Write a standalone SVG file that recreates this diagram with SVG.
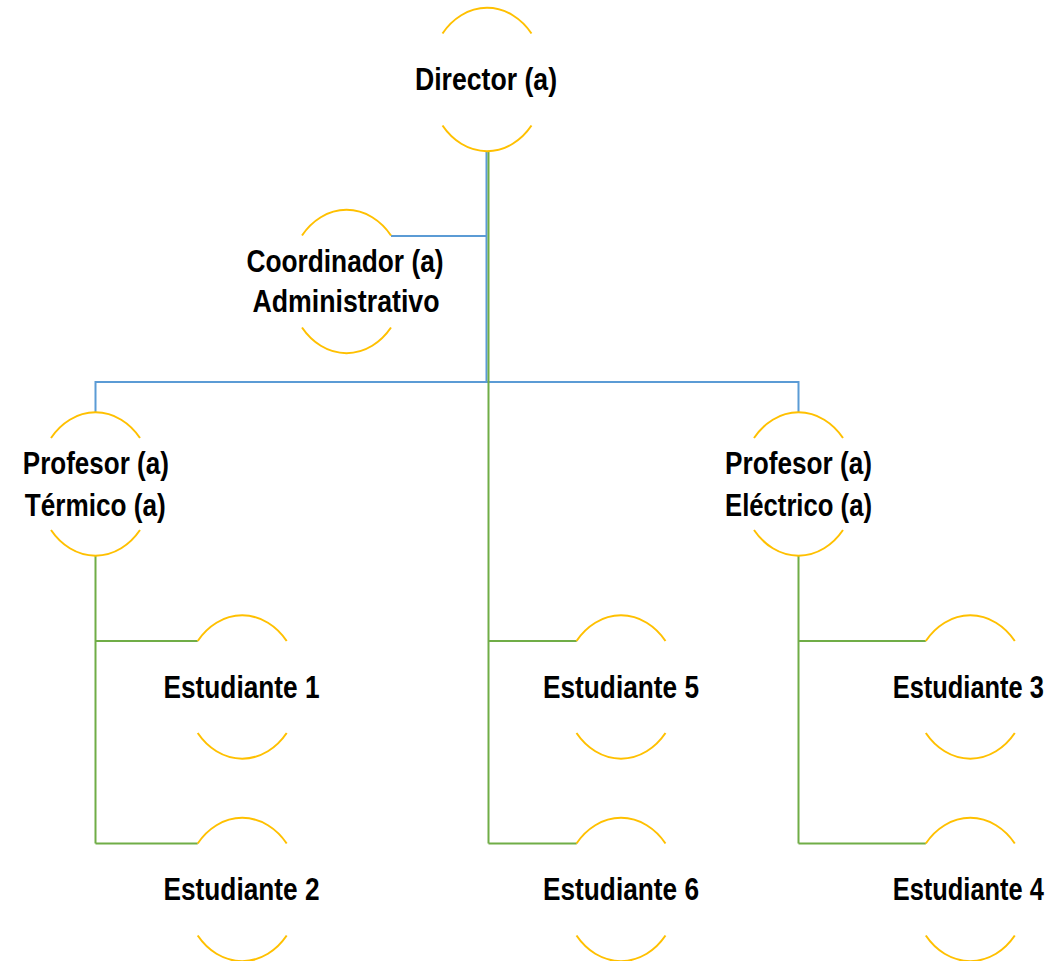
<svg xmlns="http://www.w3.org/2000/svg" xmlns:xlink="http://www.w3.org/1999/xlink" width="1056" height="961" viewBox="0 0 1056 961">
<style>
.arc{fill:none;stroke:#FFC000;stroke-width:2}
.blue{fill:none;stroke:#5B9BD5;stroke-width:2}
.green{fill:none;stroke:#70AD47;stroke-width:2}
text{font-family:"Liberation Sans",Arial,sans-serif;font-weight:bold;font-size:30.5px;fill:#000;text-anchor:middle}
</style>
<defs>
<path id="circ" class="arc" d="M-44.5,-46 A58,71.5 0 0 1 44.5,-46 M-44.5,46 A58,71.5 0 0 0 44.5,46"/>
</defs>
<rect width="1056" height="961" fill="#fff"/>
<g id="connectors">
<path class="blue" d="M486.5,151 V382 M391,236 H486.5 M95.5,413 V382 H798.5 V413"/>
<path class="green" d="M488.5,151 V843.5 M488.5,641 H576.7 M488.5,843.5 H576.7"/>
<path class="green" d="M95.5,556 V843.5 M95.5,641 H197.7 M95.5,843.5 H197.7"/>
<path class="green" d="M798.5,556 V843.5 M798.5,641 H925.8 M798.5,843.5 H925.8"/>
</g>
<g id="director" transform="translate(487,79.5)"><use xlink:href="#circ"/><text x="-1" y="10" textLength="142" lengthAdjust="spacingAndGlyphs">Director (a)</text></g>
<g id="coordinador" transform="translate(346.5,281.5)"><use xlink:href="#circ"/><text x="-1.5" y="-9.5" textLength="197" lengthAdjust="spacingAndGlyphs">Coordinador (a)</text><text x="-0.5" y="30" textLength="187" lengthAdjust="spacingAndGlyphs">Administrativo</text></g>
<g id="profesor-termico" transform="translate(95.5,484)"><use xlink:href="#circ"/><text x="0.3" y="-10" textLength="146" lengthAdjust="spacingAndGlyphs">Profesor (a)</text><text x="-0.2" y="31.5" textLength="141" lengthAdjust="spacingAndGlyphs">Térmico (a)</text></g>
<g id="profesor-electrico" transform="translate(798.5,484)"><use xlink:href="#circ"/><text x="0" y="-10" textLength="147" lengthAdjust="spacingAndGlyphs">Profesor (a)</text><text x="0" y="31.5" textLength="147" lengthAdjust="spacingAndGlyphs">Eléctrico (a)</text></g>
<g id="estudiante1" transform="translate(242.2,687)"><use xlink:href="#circ"/><text x="-0.7" y="10.5" textLength="156" lengthAdjust="spacingAndGlyphs">Estudiante 1</text></g>
<g id="estudiante2" transform="translate(242.2,889.5)"><use xlink:href="#circ"/><text x="-0.7" y="10" textLength="156" lengthAdjust="spacingAndGlyphs">Estudiante 2</text></g>
<g id="estudiante5" transform="translate(621,687)"><use xlink:href="#circ"/><text x="0" y="10.5" textLength="156" lengthAdjust="spacingAndGlyphs">Estudiante 5</text></g>
<g id="estudiante6" transform="translate(621,889.5)"><use xlink:href="#circ"/><text x="0" y="10" textLength="156" lengthAdjust="spacingAndGlyphs">Estudiante 6</text></g>
<g id="estudiante3" transform="translate(970.3,687)"><use xlink:href="#circ"/><text x="-2" y="10.5" textLength="151" lengthAdjust="spacingAndGlyphs">Estudiante 3</text></g>
<g id="estudiante4" transform="translate(970.3,889.5)"><use xlink:href="#circ"/><text x="-2" y="10" textLength="151" lengthAdjust="spacingAndGlyphs">Estudiante 4</text></g>
</svg>
